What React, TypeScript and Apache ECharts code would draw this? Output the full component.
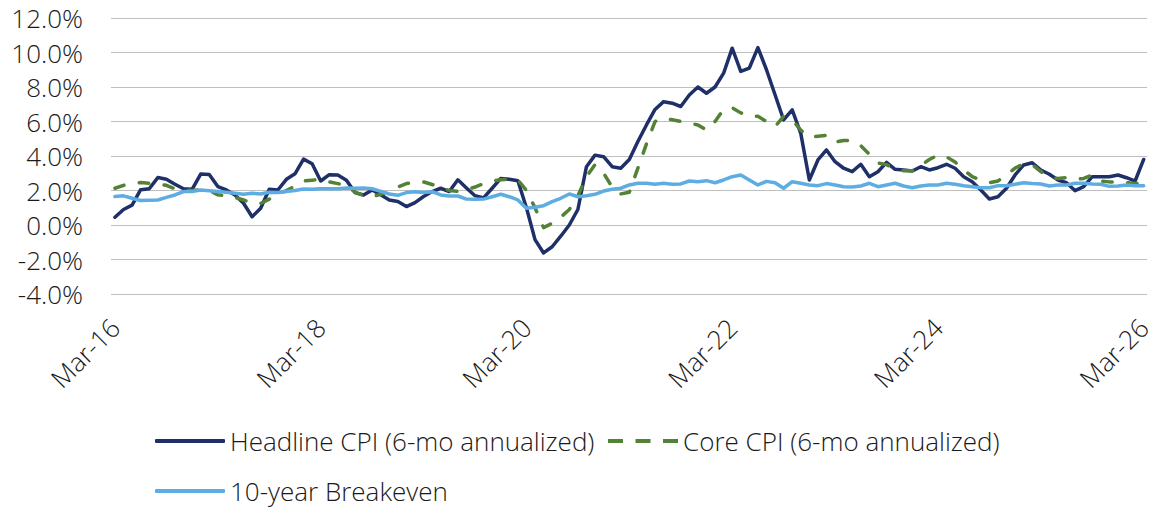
import React, { useEffect, useRef } from 'react';
import * as echarts from 'echarts';

const MONTHS = ['Jan', 'Feb', 'Mar', 'Apr', 'May', 'Jun', 'Jul', 'Aug', 'Sep', 'Oct', 'Nov', 'Dec'];
// Monthly categories Mar-16 .. Mar-26
const CATEGORIES: string[] = [];
for (let k = 0; k <= 120; k++) {
  const m = (2 + k) % 12;
  const y = 16 + Math.floor((2 + k) / 12);
  CATEGORIES.push(`${MONTHS[m]}-${y}`);
}
// Months that carry a tick label (Mar-16, Mar-18, ... Mar-26)
const LABEL_INDICES = [0, 24, 48, 72, 96, 120];

const SERIES_NAMES = ['Headline CPI (6-mo annualized)', 'Core CPI (6-mo annualized)', '10-year Breakeven'];

const HEADLINE = [
  0.45, 0.90, 1.15, 2.05, 2.10, 2.75, 2.65, 2.36, 2.10, 2.07,
  2.95, 2.93, 2.23, 2.03, 1.74, 1.26, 0.48, 0.97, 2.07, 2.03,
  2.65, 2.97, 3.82, 3.55, 2.55, 2.92, 2.90, 2.60, 1.88, 1.74,
  2.03, 1.75, 1.45, 1.36, 1.07, 1.30, 1.65, 1.94, 2.13, 1.94,
  2.62, 2.15, 1.70, 1.57, 2.13, 2.70, 2.65, 2.57, 1.00, -0.85,
  -1.62, -1.26, -0.65, 0.00, 0.90, 3.38, 4.05, 3.96, 3.38, 3.29,
  3.80, 4.84, 5.80, 6.70, 7.15, 7.06, 6.87, 7.54, 8.00, 7.64,
  8.00, 8.80, 10.25, 8.90, 9.10, 10.28, 9.00, 7.55, 6.09, 6.67,
  5.31, 2.61, 3.77, 4.35, 3.67, 3.29, 3.09, 3.52, 2.80, 3.09,
  3.63, 3.23, 3.19, 3.13, 3.38, 3.19, 3.32, 3.52, 3.29, 2.80,
  2.51, 2.03, 1.51, 1.64, 2.13, 2.90, 3.48, 3.61, 3.19, 2.94,
  2.61, 2.45, 1.99, 2.22, 2.80, 2.80, 2.80, 2.90, 2.74, 2.55,
  3.80,
];

const CORE = [
  2.13, 2.30, 2.40, 2.46, 2.42, 2.38, 2.30, 2.10, 2.03, 2.00,
  2.05, 2.00, 1.75, 1.68, 1.60, 1.45, 1.26, 1.25, 1.50, 1.80,
  2.00, 2.25, 2.55, 2.60, 2.65, 2.50, 2.40, 2.30, 1.90, 1.70,
  1.65, 1.78, 1.95, 2.20, 2.40, 2.48, 2.50, 2.35, 2.20, 2.00,
  1.95, 2.05, 2.20, 2.40, 2.55, 2.62, 2.65, 2.62, 2.00, 1.00,
  -0.15, 0.10, 0.45, 0.90, 1.70, 2.80, 3.50, 3.00, 2.20, 1.80,
  1.90, 3.30, 4.70, 6.00, 6.20, 6.10, 6.00, 5.90, 5.80, 5.50,
  6.00, 6.70, 6.80, 6.50, 6.30, 6.30, 6.00, 5.70, 6.30, 6.10,
  5.50, 5.10, 5.15, 5.20, 4.80, 4.90, 4.90, 4.60, 4.10, 3.60,
  3.50, 3.25, 3.15, 3.15, 3.45, 3.80, 4.05, 3.95, 3.65, 3.20,
  2.80, 2.60, 2.45, 2.55, 2.90, 3.30, 3.55, 3.50, 3.10, 2.75,
  2.70, 2.75, 2.65, 2.70, 2.90, 2.55, 2.50, 2.50, 2.45, 2.40,
  2.40,
];

const BREAKEVEN = [
  1.65, 1.69, 1.55, 1.42, 1.43, 1.45, 1.60, 1.74, 1.94, 1.94,
  2.03, 1.98, 1.94, 1.90, 1.84, 1.78, 1.84, 1.80, 1.90, 1.88,
  1.94, 2.00, 2.09, 2.07, 2.10, 2.10, 2.10, 2.15, 2.13, 2.15,
  2.10, 1.95, 1.80, 1.72, 1.88, 1.93, 1.88, 1.93, 1.74, 1.68,
  1.68, 1.50, 1.49, 1.50, 1.64, 1.78, 1.64, 1.45, 0.97, 1.03,
  1.12, 1.35, 1.55, 1.80, 1.64, 1.70, 1.78, 1.97, 2.07, 2.13,
  2.32, 2.42, 2.42, 2.36, 2.42, 2.36, 2.38, 2.55, 2.51, 2.57,
  2.45, 2.61, 2.80, 2.90, 2.61, 2.32, 2.53, 2.45, 2.13, 2.51,
  2.42, 2.32, 2.28, 2.40, 2.32, 2.22, 2.20, 2.26, 2.42, 2.22,
  2.32, 2.42, 2.26, 2.16, 2.26, 2.32, 2.32, 2.42, 2.36, 2.28,
  2.22, 2.16, 2.16, 2.28, 2.28, 2.36, 2.45, 2.40, 2.38, 2.26,
  2.32, 2.32, 2.42, 2.42, 2.38, 2.36, 2.24, 2.26, 2.32, 2.28,
  2.28,
];

const FONT = "'Open Sans', 'Noto Sans', sans-serif";
const TEXT_COLOR = '#1a1a1a';
const COLORS = ['#1F3068', '#548235', '#5DADE2'];
const DASH_ICON = 'path://M0,0h15v4h-15z M27.5,0h15v4h-15z M55,0h15v4h-15z';

const toPairs = (arr: number[]) => arr.map((v, i) => [i, v]);

export default function App() {
  const ref = useRef<HTMLDivElement>(null);

  useEffect(() => {
    if (!ref.current) return;
    const chart = echarts.init(ref.current, null, { renderer: 'svg' });
    const legendText = { fontFamily: FONT, fontSize: 26, fontWeight: 300, color: TEXT_COLOR };
    const legendBase = {
      orient: 'horizontal',
      padding: 0,
      itemWidth: 70,
      itemHeight: 4,
      itemGap: 10,
      textStyle: legendText,
      selectedMode: false,
    };
    chart.setOption({
      animation: false,
      backgroundColor: '#ffffff',
      color: COLORS,
      grid: { left: 111, right: 1, top: 18, bottom: 215, containLabel: false },
      xAxis: {
        type: 'value',
        min: -0.46,
        max: 120.4,
        axisLine: { show: false, onZero: false },
        axisTick: { show: false },
        splitLine: { show: false },
        axisLabel: {
          customValues: LABEL_INDICES,
          formatter: (v: number) => CATEGORIES[Math.round(v)] ?? '',
          rotate: 45,
          margin: 29,
          fontFamily: FONT,
          fontSize: 26,
          fontWeight: 300,
          color: TEXT_COLOR,
        },
      },
      yAxis: {
        type: 'value',
        min: -4,
        max: 12,
        interval: 2,
        axisLine: { show: false },
        axisTick: { show: false },
        splitLine: { show: true, lineStyle: { color: '#BFBFBF', width: 1 } },
        axisLabel: {
          margin: 28,
          fontFamily: FONT,
          fontSize: 26,
          fontWeight: 300,
          color: TEXT_COLOR,
          formatter: (v: number) => v.toFixed(1) + '%',
        },
      },
      legend: [
        { ...legendBase, icon: 'roundRect', data: [SERIES_NAMES[0]], left: 155, top: 428 },
        { ...legendBase, icon: DASH_ICON, data: [SERIES_NAMES[1]], left: 608, top: 428 },
        { ...legendBase, icon: 'roundRect', data: [SERIES_NAMES[2]], left: 155, top: 478 },
      ],
      series: [
        {
          name: SERIES_NAMES[0],
          type: 'line',
          data: toPairs(HEADLINE),
          symbol: 'none',
          lineStyle: { color: COLORS[0], width: 3.5, cap: 'round', join: 'round' },
          itemStyle: { color: COLORS[0] },
          z: 2,
        },
        {
          name: SERIES_NAMES[1],
          type: 'line',
          data: toPairs(CORE),
          symbol: 'none',
          lineStyle: { color: COLORS[1], width: 3.5, type: [9.5, 15.5], cap: 'round', join: 'round' },
          itemStyle: { color: COLORS[1] },
          z: 3,
        },
        {
          name: SERIES_NAMES[2],
          type: 'line',
          data: toPairs(BREAKEVEN),
          symbol: 'none',
          lineStyle: { color: COLORS[2], width: 3.5, cap: 'round', join: 'round' },
          itemStyle: { color: COLORS[2] },
          z: 4,
        },
      ],
    });
    return () => chart.dispose();
  }, []);

  return (
    <div
      ref={ref}
      style={{ position: 'fixed', left: 0, top: 0, width: 1155, height: 509, background: '#ffffff' }}
    />
  );
}
